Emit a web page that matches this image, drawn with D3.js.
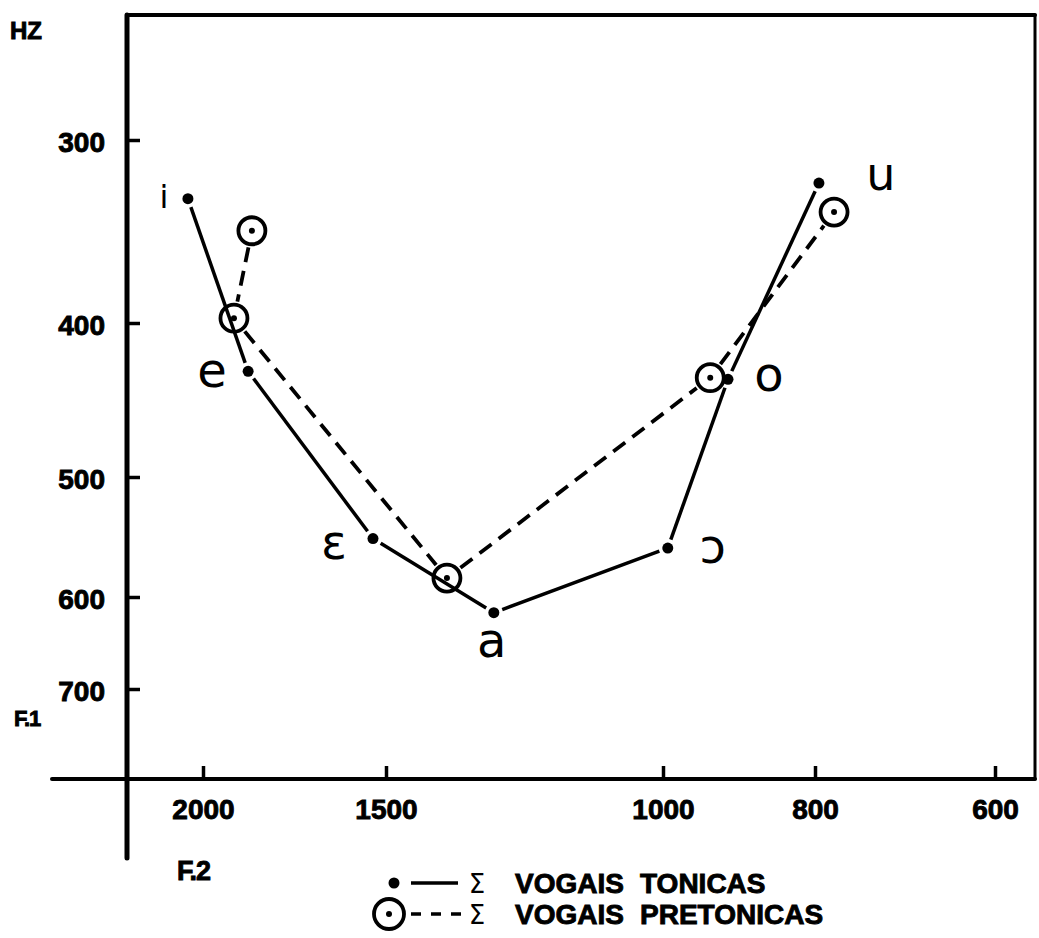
<!DOCTYPE html>
<html>
<head>
<meta charset="utf-8">
<script src="https://cdn.jsdelivr.net/npm/d3@7"></script>
<style>
  body { margin: 0; background: #fff; }
  svg { display: block; background: #fff; }
  .lbl { font-family: "Liberation Sans", Arial, sans-serif; font-weight: bold; fill: #000; stroke: #000; stroke-width: 0.9px; }
  .vowel { font-family: "DejaVu Sans", sans-serif; fill: #000; }
  .sigma { font-family: "DejaVu Sans", sans-serif; fill: #000; }
</style>
</head>
<body>
<svg id="chart" width="1039" height="938"></svg>
<script>
/* F1 x F2 vowel chart: tonic vs pretonic means */

const f2Ticks = [2000, 1500, 1000, 800, 600];
const f1Ticks = [300, 400, 500, 600, 700];

const tonicVowels = ['i', 'e', 'ɛ', 'a', 'ɔ', 'o', 'u'];
const tonicF2     = [2048, 1863, 1531, 1281, 993, 909, 795];
const tonicF1     = [329, 429, 549, 616, 557, 434, 321];

const pretonicVowels = ['i', 'e', 'a', 'o', 'u'];
const pretonicF2     = [1852, 1905, 1372, 933, 776];
const pretonicF1     = [346, 397, 583, 433, 336];

const legendNames = [['VOGAIS', 'TONICAS'], ['VOGAIS', 'PRETONICAS']];

// ── layout ──
const FRAME = { left: 127, top: 15, right: 1035, bottom: 779, xStart: 52, yEnd: 858 };
const GAP = { tonic: 9, pretonic: 17 };
// label placement relative to the tonic point (baseline), per vowel
const LABEL = {
  'i': { dx: -24, dy: 9,  size: 32 },
  'e': { dx: -36, dy: 16, size: 48 },
  'ɛ': { dx: -39, dy: 20, size: 48 },
  'a': { dx: -2,  dy: 44, size: 48 },
  'ɔ': { dx: 45,  dy: 15, size: 48 },
  'o': { dx: 41,  dy: 12, size: 48 },
  'u': { dx: 62,  dy: 7,  size: 46 }
};

const svg = d3.select('#chart');

// hand-drawn log paper: calibrate the log scale on every printed tick
const x = d3.scaleLog().domain(f2Ticks).range([203, 386, 663, 815, 995]);
const y = d3.scaleLog().domain(f1Ticks).range([140, 323, 477, 597, 689]);

// ── frame ──
const frame = svg.append('g').attr('stroke', '#000').attr('stroke-linecap', 'round');
frame.append('line').attr('x1', FRAME.left).attr('y1', FRAME.top).attr('x2', FRAME.left).attr('y2', FRAME.yEnd).attr('stroke-width', 5);
frame.append('line').attr('x1', FRAME.left).attr('y1', FRAME.top).attr('x2', FRAME.right).attr('y2', FRAME.top).attr('stroke-width', 4);
frame.append('line').attr('x1', FRAME.right).attr('y1', FRAME.top).attr('x2', FRAME.right).attr('y2', FRAME.bottom).attr('stroke-width', 3);
frame.append('line').attr('x1', FRAME.xStart).attr('y1', FRAME.bottom).attr('x2', FRAME.right).attr('y2', FRAME.bottom).attr('stroke-width', 4);

// ── axes ──
const gy = svg.append('g').attr('transform', `translate(${FRAME.left},0)`)
  .call(d3.axisLeft(y).tickValues(f1Ticks).tickFormat(d3.format('d'))
    .tickSizeInner(-13).tickSizeOuter(0).tickPadding(22));
gy.select('.domain').remove();
gy.selectAll('.tick line').attr('stroke', '#000').attr('stroke-width', 3.5);
gy.selectAll('.tick text').attr('class', 'lbl').attr('font-size', 28).attr('dy', '0.4em');

const gx = svg.append('g').attr('transform', `translate(0,${FRAME.bottom})`)
  .call(d3.axisBottom(x).tickValues(f2Ticks).tickFormat(d3.format('d'))
    .tickSizeInner(-13).tickSizeOuter(0).tickPadding(20));
gx.select('.domain').remove();
gx.selectAll('.tick line').attr('stroke', '#000').attr('stroke-width', 3.5);
gx.selectAll('.tick text').attr('class', 'lbl').attr('font-size', 28);

svg.append('text').attr('class', 'lbl').attr('x', 10).attr('y', 39).attr('font-size', 24).text('HZ');
svg.append('text').attr('class', 'lbl').attr('x', 14).attr('y', 726).attr('font-size', 22)
  .attr('letter-spacing', -1).text('F.1');
svg.append('text').attr('class', 'lbl').attr('x', 177).attr('y', 880).attr('font-size', 27)
  .attr('letter-spacing', -1).text('F.2');

// ── series ──
const toPts = (f2s, f1s) => f2s.map((f2, i) => [x(f2), y(f1s[i])]);

function gapSegments(pts, gap) {
  const segs = [];
  for (let i = 1; i < pts.length; i++) {
    const [x1, y1] = pts[i - 1], [x2, y2] = pts[i];
    const len = Math.hypot(x2 - x1, y2 - y1);
    const ux = (x2 - x1) / len, uy = (y2 - y1) / len;
    segs.push({ x1: x1 + ux * gap, y1: y1 + uy * gap, x2: x2 - ux * gap, y2: y2 - uy * gap });
  }
  return segs;
}

const tonicPts = toPts(tonicF2, tonicF1);
const pretonicPts = toPts(pretonicF2, pretonicF1);

const lines = svg.append('g').attr('stroke', '#000').attr('fill', 'none');

lines.selectAll('.tonic-seg').data(gapSegments(tonicPts, GAP.tonic)).join('line')
  .attr('class', 'tonic-seg')
  .attr('x1', d => d.x1).attr('y1', d => d.y1).attr('x2', d => d.x2).attr('y2', d => d.y2)
  .attr('stroke-width', 3.5);

lines.selectAll('.pre-seg').data(gapSegments(pretonicPts, GAP.pretonic)).join('line')
  .attr('class', 'pre-seg')
  .attr('x1', d => d.x1).attr('y1', d => d.y1).attr('x2', d => d.x2).attr('y2', d => d.y2)
  .attr('stroke-width', 3.8).attr('stroke-dasharray', '15 9');

// tonic: filled dots
svg.append('g').selectAll('circle').data(tonicPts).join('circle')
  .attr('cx', d => d[0]).attr('cy', d => d[1]).attr('r', 5.5).attr('fill', '#000');

// pretonic: ringed dots
const pre = svg.append('g').selectAll('g').data(pretonicPts).join('g')
  .attr('transform', d => `translate(${d[0]},${d[1]})`);
pre.append('circle').attr('r', 13.5).attr('fill', 'none').attr('stroke', '#000').attr('stroke-width', 3.8);
pre.append('circle').attr('r', 3).attr('fill', '#000');

// vowel labels next to the tonic points
svg.append('g').selectAll('text').data(tonicVowels).join('text')
  .attr('class', 'vowel')
  .attr('text-anchor', 'middle')
  .attr('x', (v, i) => tonicPts[i][0] + LABEL[v].dx)
  .attr('y', (v, i) => tonicPts[i][1] + LABEL[v].dy)
  .attr('font-size', v => LABEL[v].size)
  .text(v => v);

// ── legend ──
const leg = svg.append('g');
const rowY = [883, 914];

leg.append('circle').attr('cx', 394).attr('cy', rowY[0]).attr('r', 5.5).attr('fill', '#000');
leg.append('line').attr('x1', 411).attr('x2', 458).attr('y1', rowY[0]).attr('y2', rowY[0])
  .attr('stroke', '#000').attr('stroke-width', 3.5);

leg.append('circle').attr('cx', 389).attr('cy', rowY[1]).attr('r', 15)
  .attr('fill', 'none').attr('stroke', '#000').attr('stroke-width', 3.8);
leg.append('circle').attr('cx', 389).attr('cy', rowY[1]).attr('r', 3).attr('fill', '#000');
leg.append('line').attr('x1', 411).attr('x2', 461).attr('y1', rowY[1]).attr('y2', rowY[1])
  .attr('stroke', '#000').attr('stroke-width', 3.5).attr('stroke-dasharray', '10 10');

legendNames.forEach((words, i) => {
  const base = rowY[i] + 10;
  leg.append('text').attr('class', 'sigma').attr('x', 477).attr('y', base)
    .attr('text-anchor', 'middle').attr('font-size', 26).text('Σ');
  leg.append('text').attr('class', 'lbl').attr('x', 515).attr('y', base).attr('font-size', 28).text(words[0]);
  leg.append('text').attr('class', 'lbl').attr('x', 640).attr('y', base).attr('font-size', 28).text(words[1]);
});
</script>
</body>
</html>
